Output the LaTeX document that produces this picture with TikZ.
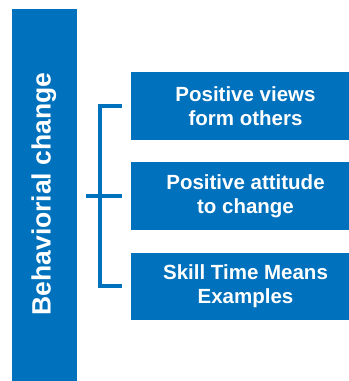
\documentclass[tikz,border=0pt]{standalone}
\usepackage{fontspec}
\setmainfont{Liberation Sans}
\definecolor{bblue}{RGB}{0,113,188}
\begin{document}
\begin{tikzpicture}[x=1bp,y=-1bp,
  box/.style={fill=bblue, text=white, inner sep=0pt, minimum width=229.6bp, minimum height=67.5bp, align=center,
    font={\fontsize{20.5bp}{24bp}\selectfont\bfseries}},
  bar/.style={fill=bblue, inner sep=0pt, minimum width=65bp, minimum height=420bp},
  barlabel/.style={text=white, inner sep=0pt, rotate=90, anchor=base, font={\fontsize{26.5bp}{30bp}\selectfont\bfseries}},
  bracket/.style={draw=bblue, line width=4bp, line join=miter}]
\useasboundingbox (0,0) rectangle (349,381);
\clip (0,0) rectangle (349,381);
\fill[white] (0,0) rectangle (349,381);
\node[bar, anchor=north] (bar) at (44.2,8.3) {};
\node[barlabel] (lbl) at (50.5,194) {Behaviorial change};
\node[box] (b1) at (245.5,106) {Positive views\\form others};
\node[box] (b2) at (245.5,196) {Positive attitude\\to change};
\node[box] (b3) at (245.5,286.3) {Skill Time Means\\Examples};
\coordinate (t1) at ([xshift=-8bp]b1.west);
\coordinate (t3) at ([xshift=-8bp]b3.west);
\coordinate (t2) at ([xshift=-8bp]b2.west);
\coordinate (m2) at ([xshift=-44bp]b2.west);
\draw[bracket] (t1) -- ++(-22bp,0) |- (t3);
\draw[bracket] (m2) -- (t2);
\end{tikzpicture}
\end{document}
